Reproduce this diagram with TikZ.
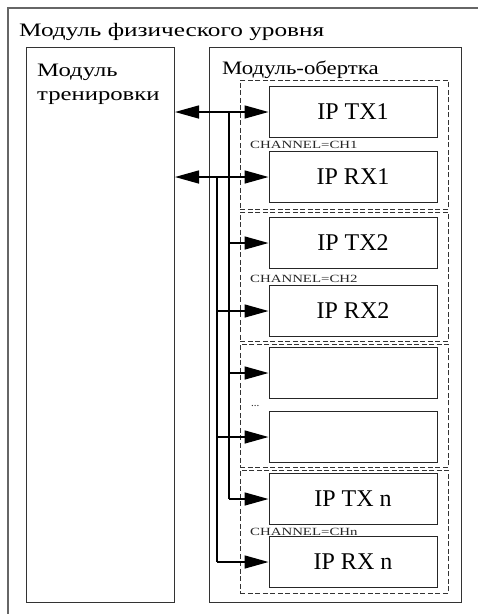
\documentclass[tikz,border=0pt]{standalone}
\usepackage{fontspec}
\usepackage{graphicx}
\setmainfont{Liberation Serif}
\usetikzlibrary{arrows.meta}
\newcommand{\hstretch}[2]{\scalebox{#1}[1]{#2}}
\begin{document}
\begin{tikzpicture}[x=1pt,y=-1pt,
  frame/.style={draw=black!60,line width=1.2pt},
  box/.style={draw=black!80,line width=1pt,inner sep=0pt,anchor=north west},
  group/.style={draw=black!80,line width=0.8pt,dash pattern=on 5pt off 2.5pt,inner sep=0pt,anchor=north west,minimum width=208pt},
  ipbox/.style={draw=black!85,line width=1pt,inner sep=0pt,minimum width=168pt,minimum height=51pt,font=\fontsize{24}{26}\selectfont},
  chan/.style={anchor=west,inner sep=0pt,font=\fontsize{11}{12}\selectfont,text=black!85},
  lbl/.style={anchor=base west,inner sep=0pt,font=\fontsize{19}{22}\selectfont},
  tip/.style={-{Triangle[length=24pt,width=13pt]}},
  dtip/.style={{Triangle[length=24pt,width=13pt]}-{Triangle[length=24pt,width=13pt]}},
  conn/.style={line width=1.5pt},
  bus/.style={line width=2pt}]
\useasboundingbox (0,0) rectangle (478,614);
% outer frame (cropped)
\draw[frame] (8,614) -- (8,8) -- (478,8);
\node[lbl] (title) at (19,36) {\hstretch{1.33}{Модуль физического уровня}};
% training module
\node[box,minimum width=148pt,minimum height=555pt] (lt) at (26,47) {};
\node[lbl] (ltname1) at (37,76) {\hstretch{1.3}{Модуль}};
\node[lbl] (ltname2) at (37,100) {\hstretch{1.3}{тренировки}};
% wrapper module
\node[box,minimum width=252pt,minimum height=555pt] (wr) at (209,47) {};
\node[lbl] (wrname) at (222,74) {\hstretch{1.2}{Модуль-обертка}};
% dashed groups
\node[group,minimum height=129pt] (g1) at (240,80) {};
\node[group,minimum height=129pt] (g2) at (240,212) {};
\node[group,minimum height=123pt] (g3) at (240,344) {};
\node[group,minimum height=123pt] (g4) at (240,470) {};
% IP boxes
\node[ipbox] (tx1) at (353,112) {IP TX1};
\node[ipbox] (rx1) at (353,177) {IP RX1};
\node[ipbox] (tx2) at (353,243) {IP TX2};
\node[ipbox] (rx2) at (353,311) {IP RX2};
\node[ipbox] (bk1) at (353,373) {};
\node[ipbox] (bk2) at (353,437) {};
\node[ipbox] (txn) at (353,499) {IP TX n};
\node[ipbox] (rxn) at (353,562) {IP RX n};
% channel labels
\node[chan] (c1) at (250,145) {\hstretch{1.35}{CHANNEL=CH1}};
\node[chan] (c2) at (250,279) {\hstretch{1.35}{CHANNEL=CH2}};
\node[chan] (cd) at (251,406) {...};
\node[chan] (cn) at (250,532) {\hstretch{1.35}{CHANNEL=CHn}};
% bus coordinates
\coordinate (busA) at (229,0);
\coordinate (busB) at (217,0);
% double arrows
\draw[conn,dtip] (tx1.west -| lt.east) -- (tx1.west);
\draw[conn,dtip] (rx1.west -| lt.east) -- (rx1.west);
% buses
\draw[bus] (tx1.west -| busA) -- (txn.west -| busA);
\draw[bus] (rx1.west -| busB) -- (rxn.west -| busB);
% branches
\draw[conn,tip] (tx2.west -| busA) -- (tx2.west);
\draw[conn,tip] (bk1.west -| busA) -- (bk1.west);
\draw[conn,tip] (txn.west -| busA) -- (txn.west);
\draw[conn,tip] (rx2.west -| busB) -- (rx2.west);
\draw[conn,tip] (bk2.west -| busB) -- (bk2.west);
\draw[conn,tip] (rxn.west -| busB) -- (rxn.west);
\end{tikzpicture}
\end{document}
